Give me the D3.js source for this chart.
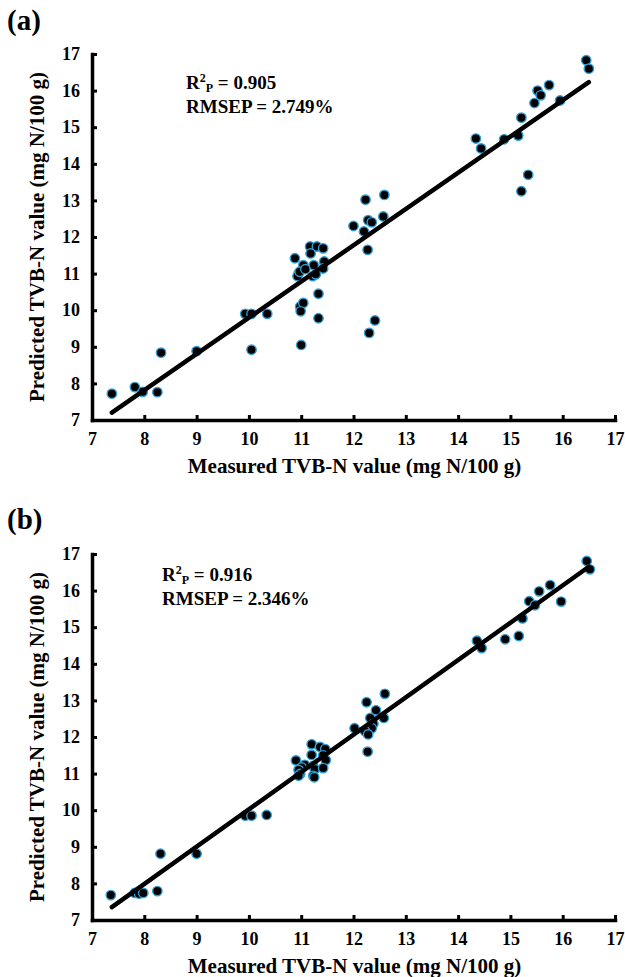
<!DOCTYPE html>
<html>
<head>
<meta charset="utf-8">
<script src="https://cdn.jsdelivr.net/npm/d3@7"></script>
<style>
  body { margin: 0; background: #fff; }
  svg { display: block; }
  text { font-family: "Liberation Serif", "Times New Roman", serif; font-weight: bold; fill: #000; }
</style>
</head>
<body>
<svg id="chart" width="625" height="977"></svg>
<script>
// ---- Data ----
const ticks = [7, 8, 9, 10, 11, 12, 13, 14, 15, 16, 17];

const measuredA = [7.38, 7.82, 7.97, 8.25, 8.32, 9.0, 9.93, 10.05, 10.35, 10.05, 11.0, 10.98, 11.04, 10.99, 11.33, 11.33,
  10.88, 11.04, 10.95, 10.93, 10.97, 11.17, 11.3, 11.42, 11.18, 11.24, 11.44, 11.42, 11.22, 11.28, 11.08,
  12.0, 12.23, 12.59, 12.28, 12.35, 12.57, 12.2, 12.27, 12.41, 12.3,
  14.34, 14.44, 14.88, 15.15, 15.21, 15.34, 15.21, 15.46, 15.52, 15.58, 15.74, 15.95, 16.45, 16.5];
const predictedA = [7.72, 7.9, 7.77, 7.76, 8.84, 8.88, 9.9, 9.9, 9.9, 8.92, 9.05, 10.1, 10.2, 9.97, 10.45, 9.78,
  11.42, 11.23, 11.0, 10.93, 11.05, 11.74, 11.74, 11.69, 11.55, 11.23, 11.33, 11.14, 10.93, 10.98, 11.12,
  12.3, 13.02, 13.15, 12.46, 12.4, 12.56, 12.15, 11.65, 9.72, 9.38,
  14.69, 14.42, 14.67, 14.77, 15.26, 13.7, 13.25, 15.66, 16.0, 15.87, 16.15, 15.73, 16.83, 16.6];

const measuredB = [7.36, 7.82, 7.9, 7.98, 8.25, 8.31, 9.0, 9.93, 10.05, 10.34,
  10.9, 11.2, 11.36, 11.46, 11.2, 11.42, 11.47, 11.07, 11.01, 10.95, 10.98, 11.23, 11.26, 11.42, 11.23, 11.25, 10.95,
  12.02, 12.25, 12.6, 12.43, 12.32, 12.58, 12.38, 12.35, 12.22, 12.28, 12.27,
  14.36, 14.45, 14.9, 15.16, 15.23, 15.36, 15.47, 15.55, 15.76, 15.97, 16.46, 16.52];
const predictedB = [7.68, 7.74, 7.72, 7.74, 7.79, 8.81, 8.81, 9.85, 9.85, 9.87,
  11.36, 11.8, 11.73, 11.67, 11.51, 11.5, 11.37, 11.24, 11.17, 11.1, 10.99, 11.21, 11.12, 11.15, 10.94, 10.9, 10.94,
  12.24, 12.95, 13.18, 12.73, 12.52, 12.52, 12.36, 12.24, 12.16, 12.07, 11.6,
  14.63, 14.43, 14.67, 14.76, 15.24, 15.71, 15.6, 15.98, 16.15, 15.7, 16.81, 16.58];

// fitted lines: [slope, intercept], drawn over measured range
const fitA = [0.99, -0.106];
const fitB = [1.02, -0.178];
const fitRange = [7.38, 16.5];

const labels = ["(a)", "(b)"];
const r2Values = ["0.905", "0.916"];
const rmsepValues = ["2.749%", "2.346%"];
const xTitle = "Measured TVB-N value (mg N/100 g)";
const yTitle = "Predicted TVB-N value (mg N/100 g)";

// ---- Drawing ----
const svg = d3.select("#chart");

function drawPanel(opt) {
  const g = svg.append("g").attr("transform", `translate(0,${opt.top})`);
  const x = d3.scaleLinear().domain([7, 17]).range([92, 615]);
  const y = d3.scaleLinear().domain([7, 17]).range([opt.h, opt.h - 366]);

  // panel label
  g.append("text").attr("x", 7).attr("y", opt.labelY).style("font-size", "29px").text(opt.label);

  // axes
  const xa = g.append("g").attr("transform", `translate(0,${y(7)})`)
    .call(d3.axisBottom(x).tickValues(ticks).tickSizeInner(-5).tickSizeOuter(0).tickPadding(12).tickFormat(d3.format("d")));
  const ya = g.append("g").attr("transform", `translate(${x(7)},0)`)
    .call(d3.axisLeft(y).tickValues(ticks).tickSizeInner(-5).tickSizeOuter(0).tickPadding(12).tickFormat(d3.format("d")));
  [xa, ya].forEach(a => {
    a.select(".domain").attr("stroke", "#000").attr("stroke-width", 3.5).attr("stroke-linecap", "square");
    a.selectAll(".tick line").attr("stroke", "#000").attr("stroke-width", 3);
    a.selectAll(".tick text").style("font-size", "18px").style("font-family", "Liberation Serif").style("font-weight", "bold").attr("fill", "#000");
  });

  // axis titles
  g.append("text").attr("x", (x(7) + x(17)) / 2 + 1).attr("y", opt.h + 53)
    .attr("text-anchor", "middle").style("font-size", "21px").text(xTitle);
  g.append("text").attr("transform", `translate(44,${(y(7) + y(17)) / 2}) rotate(-90)`)
    .attr("text-anchor", "middle").style("font-size", "21px").text(yTitle);

  // points
  const pts = opt.mx.map((v, i) => [v, opt.py[i]]);
  g.append("g").selectAll("circle").data(pts).join("circle")
    .attr("cx", d => x(d[0])).attr("cy", d => y(d[1])).attr("r", 4.7)
    .attr("fill", "#000").attr("stroke", "#2f9fd6").attr("stroke-width", 1.4);

  // fit line
  const line = d3.line().x(d => x(d)).y(d => y(opt.fit[0] * d + opt.fit[1]));
  g.append("path").datum(fitRange).attr("d", line)
    .attr("stroke", "#000").attr("stroke-width", 4.5).attr("stroke-linecap", "round").attr("fill", "none");

  // stats
  const t1 = g.append("text").attr("x", opt.statX).attr("y", opt.statY).style("font-size", "19px");
  t1.append("tspan").text("R");
  t1.append("tspan").attr("dy", -7).style("font-size", "12px").text("2");
  t1.append("tspan").attr("dy", 10).style("font-size", "12px").text("P");
  t1.append("tspan").attr("dy", -3).text(" = " + opt.r2);
  g.append("text").attr("x", opt.statX).attr("y", opt.statY + 24).style("font-size", "19px").text("RMSEP = " + opt.rmsep);
}

drawPanel({ top: 0, h: 420, label: labels[0], labelY: 30, mx: measuredA, py: predictedA, fit: fitA,
  r2: r2Values[0], rmsep: rmsepValues[0], statX: 186, statY: 89 });
drawPanel({ top: 500, h: 420, label: labels[1], labelY: 29, mx: measuredB, py: predictedB, fit: fitB,
  r2: r2Values[1], rmsep: rmsepValues[1], statX: 162, statY: 81 });
</script>
</body>
</html>
